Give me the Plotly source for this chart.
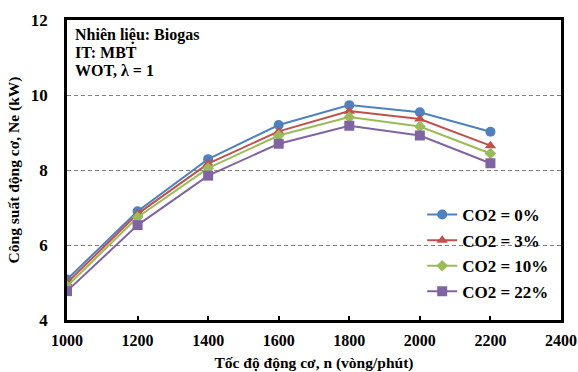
import plotly.graph_objects as go

speed = [1000, 1200, 1400, 1600, 1800, 2000, 2200]
co2_0 = [5.08, 6.90, 8.29, 9.20, 9.73, 9.54, 9.02]
co2_3 = [4.99, 6.83, 8.17, 9.03, 9.57, 9.36, 8.65]
co2_10 = [4.90, 6.74, 8.05, 8.92, 9.41, 9.16, 8.44]
co2_22 = [4.77, 6.53, 7.85, 8.70, 9.18, 8.92, 8.18]
names = ["CO2 = 0%", "CO2 = 3%", "CO2 = 10%", "CO2 = 22%"]
x_ticks = [1000, 1200, 1400, 1600, 1800, 2000, 2200, 2400]
y_ticks = [4, 6, 8, 10, 12]
info_lines = ["Nhiên liệu: Biogas", "IT: MBT", "WOT, λ = 1"]
colors = ["#4F81BD", "#C0504D", "#9BBB59", "#8064A2"]
symbols = ["circle", "triangle-up", "diamond", "square"]
sizes = [10, 10, 9, 10]
series = [co2_0, co2_3, co2_10, co2_22]

font_family = "Liberation Serif"

fig = go.Figure()
for i, (name, ys, c, s, sz) in enumerate(zip(names, series, colors, symbols, sizes)):
    fig.add_trace(go.Scatter(
        x=speed, y=ys, name="<b>" + name + "</b>", mode="lines+markers",
        legendgroup="g%d" % i,
        line=dict(color=c, width=2),
        marker=dict(symbol=s, size=sz, color=c),
    ))

annos = []
for k, line in enumerate(info_lines):
    annos.append(dict(
        x=0.013, y=0.95 - k * 0.0585, xref="paper", yref="paper",
        xanchor="left", yanchor="middle", align="left", showarrow=False,
        text="<b>" + line + "</b>",
        font=dict(family=font_family, size=16, color="black"),
    ))

fig.update_layout(
    width=578, height=372,
    margin=dict(l=67, r=17, t=20, b=52),
    paper_bgcolor="white", plot_bgcolor="white",
    font=dict(family=font_family, color="black", size=14),
    showlegend=True,
    legend=dict(
        x=0.719, y=0.41, xanchor="left", yanchor="top",
        bgcolor="rgba(0,0,0,0)",
        font=dict(family=font_family, size=17, color="black"),
        itemwidth=30, tracegroupgap=0.5, traceorder="grouped",
    ),
    annotations=annos,
)

fig.update_xaxes(
    range=[1000, 2400], tickvals=x_ticks,
    ticktext=[str(v) for v in x_ticks],
    tickfont=dict(family=font_family, size=16, color="black", weight="bold"),
    ticks="inside", ticklen=4, tickcolor="black", tickwidth=1.5,
    ticklabelstandoff=4,
    showline=True, linecolor="black", linewidth=2.5, mirror=True,
    showgrid=False, zeroline=False, automargin=False,
    title=dict(text="<b>Tốc độ động cơ, n (vòng/phút)</b>", standoff=19,
               font=dict(family=font_family, size=15.5, color="black")),
)
fig.update_yaxes(
    range=[4, 12], tickvals=y_ticks,
    ticktext=[str(v) for v in y_ticks],
    tickfont=dict(family=font_family, size=17, color="black", weight="bold"),
    ticks="", ticklabelstandoff=13,
    showline=True, linecolor="black", linewidth=2.5, mirror=True,
    showgrid=True, gridcolor="#808080", griddash="4px,3px", gridwidth=1,
    zeroline=False, automargin=False,
    title=dict(text="<b>Công suất động cơ, Ne (kW)</b>", standoff=8,
               font=dict(family=font_family, size=15.5, color="black")),
)

fig.write_html("out.html")
